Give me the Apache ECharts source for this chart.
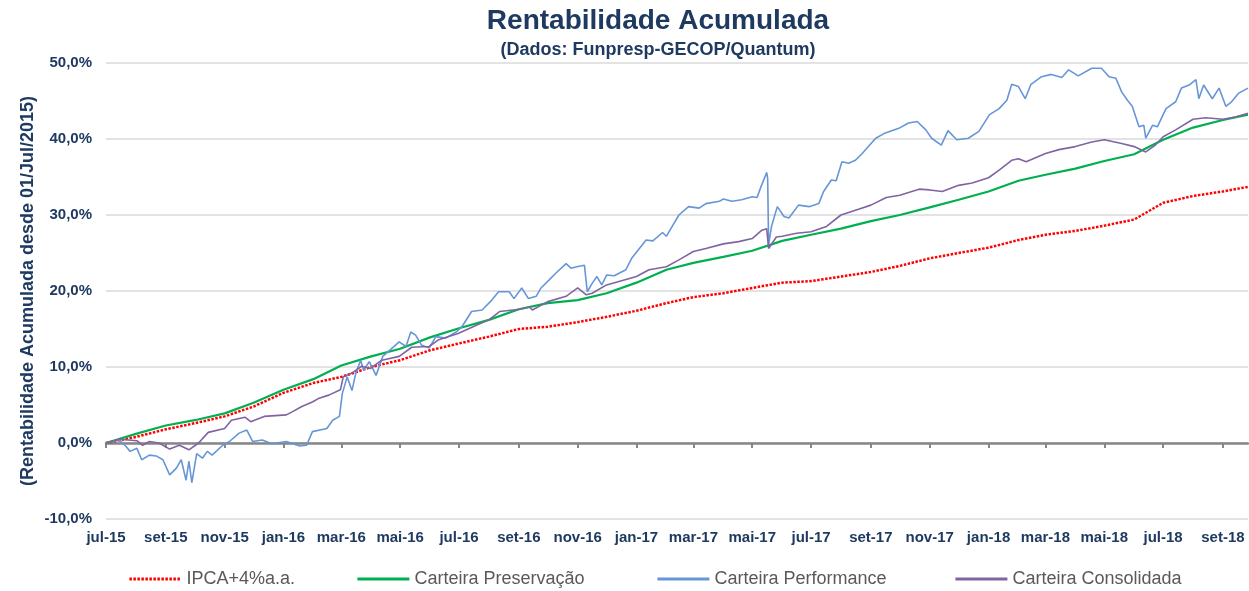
<!DOCTYPE html>
<html>
<head>
<meta charset="utf-8">
<script src="https://cdn.jsdelivr.net/npm/echarts@6/dist/echarts.min.js"></script>
<style>
  html, body { margin: 0; padding: 0; background: #fff; }
  #container { width: 1249px; height: 591px; }
</style>
</head>
<body>
<div id="container"></div>
<script>
// month starts (last point = end of the series)
var monthDates = ['2015-07-01','2015-08-01','2015-09-01','2015-10-01','2015-11-01','2015-12-01',
  '2016-01-01','2016-02-01','2016-03-01','2016-04-01','2016-05-01','2016-06-01','2016-07-01','2016-08-01',
  '2016-09-01','2016-10-01','2016-11-01','2016-12-01','2017-01-01','2017-02-01','2017-03-01','2017-04-01',
  '2017-05-01','2017-06-01','2017-07-01','2017-08-01','2017-09-01','2017-10-01','2017-11-01','2017-12-01',
  '2018-01-01','2018-02-01','2018-03-01','2018-04-01','2018-05-01','2018-06-01','2018-07-01','2018-08-01',
  '2018-09-01','2018-09-27'];

var ipca = [0, 0.8, 1.8, 2.6, 3.5, 4.8, 6.6, 7.9, 8.7, 10.0, 10.9, 12.2, 13.1, 14.0, 15.0, 15.3, 15.9, 16.6,
  17.4, 18.4, 19.2, 19.7, 20.4, 21.1, 21.3, 21.9, 22.5, 23.3, 24.3, 25.0, 25.7, 26.7, 27.4, 27.9, 28.6, 29.4,
  31.6, 32.5, 33.1, 33.7];

var preservacao = [0, 1.2, 2.3, 3.0, 3.9, 5.3, 7.0, 8.4, 10.2, 11.4, 12.4, 13.9, 15.1, 16.2, 17.6, 18.4, 18.8,
  19.7, 21.1, 22.8, 23.7, 24.5, 25.3, 26.6, 27.4, 28.2, 29.2, 30.0, 31.0, 32.0, 33.1, 34.5, 35.3, 36.1, 37.1,
  38.0, 39.9, 41.5, 42.5, 43.2];

var perfDates = ['2015-07-01','2015-07-02','2015-07-15','2015-07-22','2015-07-26','2015-08-02','2015-08-07',
  '2015-08-15','2015-08-22','2015-08-29','2015-09-05','2015-09-12','2015-09-17','2015-09-22','2015-09-25',
  '2015-09-28','2015-10-03','2015-10-09','2015-10-14','2015-10-19','2015-10-30','2015-11-06','2015-11-16',
  '2015-11-24','2015-11-30','2015-12-10','2015-12-20','2016-01-04','2016-01-18','2016-01-25','2016-01-31',
  '2016-02-15','2016-02-21','2016-02-28','2016-03-02','2016-03-07','2016-03-12','2016-03-16','2016-03-21',
  '2016-03-24','2016-03-30','2016-04-06','2016-04-13','2016-04-20','2016-04-30','2016-05-07','2016-05-12',
  '2016-05-17','2016-05-23','2016-05-31','2016-06-07','2016-06-17','2016-06-28','2016-07-04','2016-07-14',
  '2016-07-25','2016-08-04','2016-08-11','2016-08-22','2016-08-27','2016-09-04','2016-09-11','2016-09-19',
  '2016-09-24','2016-10-02','2016-10-09','2016-10-20','2016-10-25','2016-10-31','2016-11-08','2016-11-11',
  '2016-11-16','2016-11-21','2016-11-26','2016-12-01','2016-12-09','2016-12-21','2016-12-27','2017-01-11',
  '2017-01-18','2017-01-28','2017-02-01','2017-02-07','2017-02-14','2017-02-24','2017-03-07','2017-03-14',
  '2017-03-28','2017-04-01','2017-04-10','2017-04-20','2017-05-01','2017-05-06','2017-05-10','2017-05-16',
  '2017-05-17','2017-05-18','2017-05-21','2017-05-27','2017-06-03','2017-06-08','2017-06-18','2017-06-29',
  '2017-07-09','2017-07-14','2017-07-22','2017-07-27','2017-08-02','2017-08-09','2017-08-16','2017-08-23',
  '2017-09-06','2017-09-16','2017-09-30','2017-10-10','2017-10-19','2017-10-28','2017-11-03','2017-11-13',
  '2017-11-20','2017-11-29','2017-12-11','2017-12-22','2018-01-02','2018-01-12','2018-01-20','2018-01-25',
  '2018-02-01','2018-02-08','2018-02-14','2018-02-25','2018-03-07','2018-03-18','2018-03-25','2018-04-04',
  '2018-04-18','2018-04-28','2018-05-06','2018-05-13','2018-05-19','2018-05-25','2018-05-30','2018-06-06',
  '2018-06-11','2018-06-13','2018-06-20','2018-06-25','2018-07-04','2018-07-14','2018-07-20','2018-07-28',
  '2018-08-04','2018-08-07','2018-08-12','2018-08-21','2018-08-28','2018-09-04','2018-09-10','2018-09-17',
  '2018-09-27'];

var performance = [0, 0.2, 0.4, -0.5, -1.1, -0.7, -2.2, -1.6, -1.7, -2.2, -4.2, -3.3, -2.2, -4.9, -2.4,
  -5.2, -1.4, -2.0, -1.1, -1.6, -0.3, 0.2, 1.3, 1.7, 0.2, 0.4, -0.1, 0.2, -0.4, -0.3, 1.5,
  1.9, 3.0, 3.5, 6.5, 8.7, 6.9, 9.2, 10.9, 9.6, 10.7, 8.9, 11.4, 12.2, 13.3, 12.7, 14.6,
  14.2, 12.9, 12.5, 14.0, 13.8, 14.6, 15.3, 17.3, 17.5, 18.8, 19.9, 19.9, 19.0, 20.4, 19.0, 19.3,
  20.4, 21.4, 22.3, 23.6, 23.0, 23.2, 23.4, 19.9, 21.0, 21.9, 20.8, 22.1, 22.0, 22.8, 24.3, 26.7,
  26.6, 27.7, 27.2, 28.5, 30.0, 31.1, 30.9, 31.5, 31.8, 32.1, 31.8, 32.0, 32.4, 32.3, 33.7, 35.6,
  34.8, 26.1, 28.5, 31.1, 29.8, 29.6, 31.3, 31.1, 31.5, 33.1, 34.6, 34.5, 37.0, 36.8, 37.2, 38.1,
  40.1, 40.8, 41.4, 42.1, 42.3, 41.2, 40.1, 39.2, 41.1, 39.9, 40.1, 41.0, 43.2, 44.0, 45.1, 47.2,
  46.9, 45.3, 47.2, 48.2, 48.5, 48.1, 49.1, 48.3, 49.3, 49.3, 48.2, 48.0, 46.2, 45.1, 44.3, 41.6,
  41.8, 40.1, 41.8, 41.6, 44.0, 44.9, 46.7, 47.1, 47.8, 45.3, 47.1, 45.3, 46.7, 44.3, 44.9, 46.0,
  46.7];

var consDates = ['2015-07-01','2015-07-15','2015-08-02','2015-08-08','2015-08-15','2015-08-25','2015-09-05',
  '2015-09-15','2015-09-25','2015-10-05','2015-10-15','2015-11-01','2015-11-08','2015-11-22','2015-11-28',
  '2015-12-12','2016-01-04','2016-01-10','2016-01-20','2016-01-31','2016-02-07','2016-02-17','2016-02-29',
  '2016-03-03','2016-03-12','2016-03-22','2016-03-31','2016-04-12','2016-04-30','2016-05-13','2016-05-31',
  '2016-06-10','2016-06-30','2016-07-19','2016-08-01','2016-08-12','2016-09-02','2016-09-12','2016-09-15',
  '2016-10-01','2016-10-20','2016-11-01','2016-11-10','2016-11-16','2016-12-01','2017-01-01','2017-01-14',
  '2017-02-01','2017-02-14','2017-03-01','2017-03-14','2017-04-01','2017-04-17','2017-05-01','2017-05-11',
  '2017-05-16','2017-05-17','2017-05-18','2017-05-26','2017-06-01','2017-06-16','2017-07-01','2017-07-17',
  '2017-08-01','2017-08-20','2017-09-01','2017-09-17','2017-10-01','2017-10-21','2017-11-01','2017-11-14',
  '2017-12-01','2017-12-15','2018-01-01','2018-01-12','2018-01-25','2018-02-01','2018-02-09','2018-03-01',
  '2018-03-15','2018-04-01','2018-04-18','2018-05-01','2018-05-19','2018-06-01','2018-06-13','2018-06-23',
  '2018-07-01','2018-07-14','2018-08-01','2018-08-14','2018-09-01','2018-09-14','2018-09-27'];

var consolidada = [0, 0.5, 0.3, -0.3, 0.2, 0.0, -0.8, -0.3, -0.9, 0.0, 1.4, 1.9, 3.0, 3.4, 2.8,
  3.5, 3.7, 4.1, 4.8, 5.4, 5.9, 6.3, 7.0, 8.7, 9.2, 10.1, 9.8, 10.9, 11.4, 12.6, 12.7,
  13.6, 14.4, 15.5, 16.2, 17.3, 17.6, 17.9, 17.5, 18.6, 19.3, 20.4, 19.5, 19.7, 20.8, 21.9, 22.8,
  23.2, 24.1, 25.2, 25.6, 26.2, 26.5, 26.9, 28.0, 28.2, 28.1, 25.6, 27.1, 27.2, 27.6, 27.8, 28.5,
  30.0, 30.8, 31.3, 32.3, 32.6, 33.4, 33.3, 33.1, 33.9, 34.2, 34.9, 35.9, 37.2, 37.4, 37.0, 38.1,
  38.6, 39.0, 39.6, 39.9, 39.4, 39.0, 38.3, 39.2, 40.3, 41.2, 42.6, 42.8, 42.6, 42.9, 43.4];

// axis ticks / labels every two months
var tickDates = ['2015-07-01','2015-09-01','2015-11-01','2016-01-01','2016-03-01','2016-05-01','2016-07-01',
  '2016-09-01','2016-11-01','2017-01-01','2017-03-01','2017-05-01','2017-07-01','2017-09-01','2017-11-01',
  '2018-01-01','2018-03-01','2018-05-01','2018-07-01','2018-09-01'];
var monthNames = ['jan','fev','mar','abr','mai','jun','jul','ago','set','out','nov','dez'];

var navy = '#1f3a60';
var font = 'Liberation Sans, Arial, sans-serif';

function ts(d) { return +echarts.time.parse(d); }
function zip(dates, vals) {
    return dates.map(function (d, i) { return [ts(d), vals[i]]; });
}
var tickValues = tickDates.map(ts);
var xMin = ts('2015-07-01'), xMax = ts('2018-09-27');

var dom = document.getElementById('container');
var myChart = echarts.init(dom);

// one legend per entry so each sits where the original has it
function legendAt(name, left) {
    return {
        data: [name],
        left: left,
        top: 565,
        itemWidth: 52,
        itemHeight: 3,
        itemStyle: { opacity: 0 },
        lineStyle: { width: 2.8 },
        textStyle: { color: '#595959', fontSize: 18, fontFamily: font }
    };
}

var option = {
    animation: false,
    backgroundColor: '#ffffff',
    title: [
        {
            text: 'Rentabilidade Acumulada',
            left: 653, top: 2, textAlign: 'center',
            textStyle: { color: navy, fontSize: 28, fontWeight: 'bold', fontFamily: font }
        },
        {
            text: '(Dados: Funpresp-GECOP/Quantum)',
            left: 653, top: 36, textAlign: 'center',
            textStyle: { color: navy, fontSize: 18, fontWeight: 'bold', fontFamily: font }
        }
    ],
    legend: [
        legendAt('IPCA+4%a.a.', 123),
        legendAt('Carteira Preservação', 351),
        legendAt('Carteira Performance', 651),
        legendAt('Carteira Consolidada', 949)
    ],
    grid: { left: 106, right: 1, top: 63, bottom: 72 },
    xAxis: [
        {
            type: 'value',
            min: xMin,
            max: xMax,
            position: 'bottom',
            axisLine: { onZero: true, lineStyle: { color: '#878787', width: 2.5 } },
            axisTick: { show: true, customValues: tickValues, length: 5, lineStyle: { color: '#878787', width: 2 } },
            axisLabel: { show: false },
            splitLine: { show: false }
        },
        {
            type: 'value',
            min: xMin,
            max: xMax,
            position: 'bottom',
            axisLine: { show: false, onZero: false },
            axisTick: { show: false },
            splitLine: { show: false },
            axisLabel: {
                customValues: tickValues,
                margin: 11,
                color: navy,
                fontSize: 15,
                fontWeight: 'bold',
                fontFamily: font,
                formatter: function (v) {
                    var d = new Date(v);
                    return monthNames[d.getMonth()] + '-' + String(d.getFullYear()).slice(2);
                }
            }
        }
    ],
    yAxis: {
        type: 'value',
        min: -10,
        max: 50,
        interval: 10,
        name: '(Rentabilidade Acumulada desde 01/Jul/2015)',
        nameLocation: 'middle',
        nameRotate: 90,
        nameGap: 69,
        nameMoveOverlap: false,
        nameTextStyle: { color: navy, fontSize: 18, fontWeight: 'bold', fontFamily: font },
        axisLine: { show: false },
        axisTick: { show: false },
        axisLabel: {
            margin: 14,
            color: navy,
            fontSize: 15,
            fontWeight: 'bold',
            fontFamily: font,
            formatter: function (v) { return v.toFixed(1).replace('.', ',') + '%'; }
        },
        splitLine: { lineStyle: { color: '#e3e3e3', width: 2 } }
    },
    series: [
        {
            name: 'IPCA+4%a.a.',
            type: 'line',
            xAxisIndex: 0,
            symbol: 'none',
            color: '#ff0000',
            lineStyle: { color: '#ff0000', width: 2.5, type: [2.5, 1.5] },
            data: zip(monthDates, ipca)
        },
        {
            name: 'Carteira Preservação',
            type: 'line',
            xAxisIndex: 0,
            symbol: 'none',
            color: '#00b050',
            lineStyle: { color: '#00b050', width: 2.2 },
            data: zip(monthDates, preservacao)
        },
        {
            name: 'Carteira Performance',
            type: 'line',
            xAxisIndex: 0,
            symbol: 'none',
            color: '#6696d8',
            lineStyle: { color: '#6696d8', width: 1.6 },
            data: zip(perfDates, performance)
        },
        {
            name: 'Carteira Consolidada',
            type: 'line',
            xAxisIndex: 0,
            symbol: 'none',
            color: '#8064a2',
            lineStyle: { color: '#8064a2', width: 1.6 },
            data: zip(consDates, consolidada)
        }
    ]
};

myChart.setOption(option);
</script>
</body>
</html>
